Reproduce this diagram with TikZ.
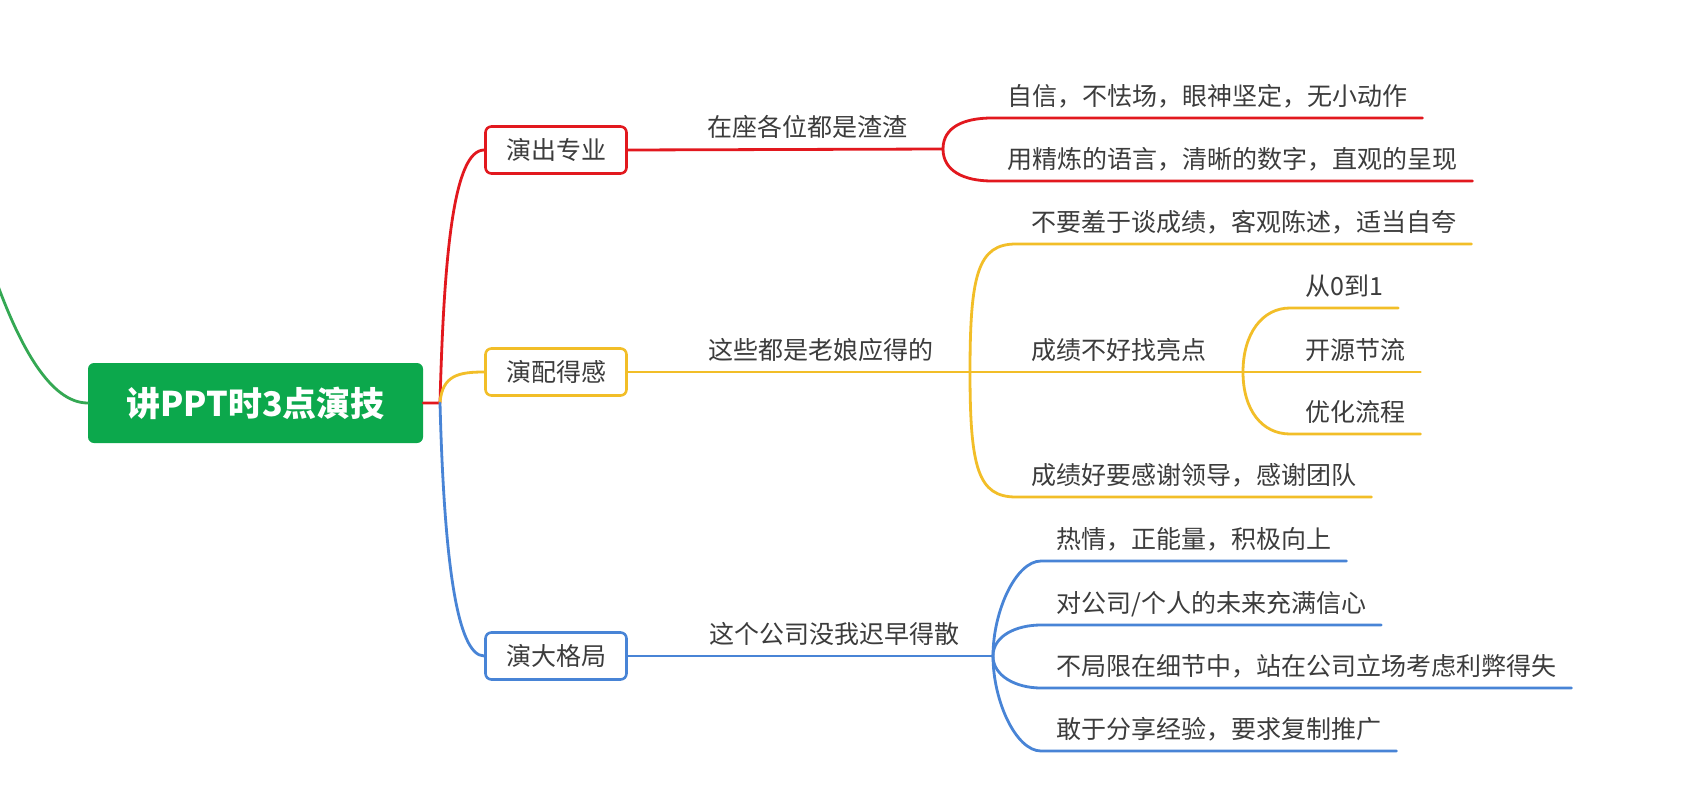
\documentclass[tikz,border=0pt]{standalone}
\usepackage{fontspec}
\setmainfont{Noto Sans CJK SC}
\usepackage{tikz}

\definecolor{mapred}{RGB}{226,24,30}
\definecolor{mapyellow}{RGB}{242,190,40}
\definecolor{mapblue}{RGB}{72,132,214}
\definecolor{mapgreen}{RGB}{12,168,76}
\definecolor{linegreen}{RGB}{52,168,83}
\definecolor{inkgray}{RGB}{60,60,60}

\tikzset{
  rootbox/.style={fill=mapgreen, rounded corners=6pt, minimum width=335pt, minimum height=80pt,
    text=white, font=\fontsize{34}{40}\selectfont\bfseries},
  topic/.style={draw, line width=2.6pt, rounded corners=6pt, fill=white, text=inkgray,
    font=\fontsize{25}{30}\selectfont, minimum width=141pt, minimum height=47pt, inner sep=0pt},
  leaf/.style={anchor=south west, inner xsep=15pt, inner ysep=0pt, text height=19pt,
    text depth=12pt, text=inkgray, font=\fontsize{25}{30}\selectfont},
  branch/.style={line width=2.8pt},
}

\begin{document}
\begin{tikzpicture}[x=1pt, y=-1pt, line cap=round, line join=round]
  \useasboundingbox[fill=white] (0,0) rectangle (1702,792);

  \coordinate (gtop) at (-2,286);
  \coordinate (hub) at (440,403);
  \coordinate (split1) at (943,149);
  \coordinate (split2) at (970,372);
  \coordinate (split2b) at (1243,372);
  \coordinate (split3) at (993,656);

  \node[rootbox] (root) at (255.5,403) {讲PPT时3点演技};
  \node[topic, draw=mapred]    (pro)  at (556,150) {演出专业};
  \node[topic, draw=mapyellow] (feel) at (556,372) {演配得感};
  \node[topic, draw=mapblue]   (big)  at (556,656) {演大格局};

  \node[leaf] (lab1) at (692,149) {在座各位都是渣渣};
  \node[leaf] (lab2) at (693,372) {这些都是老娘应得的};
  \node[leaf] (lab3) at (694,656) {这个公司没我迟早得散};

  \node[leaf] (r1) at (992,118) {自信，不怯场，眼神坚定，无小动作};
  \node[leaf] (r2) at (992,181) {用精炼的语言，清晰的数字，直观的呈现};

  \node[leaf] (y1) at (1016,244) {不要羞于谈成绩，客观陈述，适当自夸};
  \node[leaf] (y2) at (1016,372) {成绩不好找亮点};
  \node[leaf] (y3) at (1016,497) {成绩好要感谢领导，感谢团队};
  \node[leaf] (s1) at (1290,308) {从0到1};
  \node[leaf] (s2) at (1290,372) {开源节流};
  \node[leaf] (s3) at (1290,434) {优化流程};

  \node[leaf] (b1) at (1041,561) {热情，正能量，积极向上};
  \node[leaf] (b2) at (1041,625) {对公司/个人的未来充满信心};
  \node[leaf] (b3) at (1041,688) {不局限在细节中，站在公司立场考虑利弊得失};
  \node[leaf] (b4) at (1041,751) {敢于分享经验，要求复制推广};

  % root and main branches
  \draw[branch, linegreen] (gtop) .. controls (20,345) and (50,403) .. (root.west);
  \draw[branch, mapred] (root.east) -- (hub) .. controls +(4,-153) and +(-30,0) .. (pro.west);
  \draw[branch, mapyellow] (hub) .. controls +(2,-28) and +(-25,0) .. (feel.west);
  \draw[branch, mapblue] (hub) .. controls +(4,152) and +(-28,0) .. (big.west);

  % red
  \draw[branch, mapred] (pro.east) -- (split1);
  \draw[branch, mapred] (split1) .. controls +(0,-22) and +(-28,0) .. (r1.south west) -- (r1.south east);
  \draw[branch, mapred] (split1) .. controls +(0,22) and +(-28,0) .. (r2.south west) -- (r2.south east);

  % yellow
  \draw[branch, mapyellow] (feel.east) -- (split2) -- (split2b) -- (s2.south east);
  \draw[branch, mapyellow] (split2) .. controls +(0,-98) and +(-38,0) .. (y1.south west) -- (y1.south east);
  \draw[branch, mapyellow] (split2) .. controls +(0,96) and +(-38,0) .. (y3.south west) -- (y3.south east);
  \draw[branch, mapyellow] (split2b) .. controls +(0,-38) and +(-28,0) .. (s1.south west) -- (s1.south east);
  \draw[branch, mapyellow] (split2b) .. controls +(0,38) and +(-28,0) .. (s3.south west) -- (s3.south east);

  % blue
  \draw[branch, mapblue] (big.east) -- (split3);
  \draw[branch, mapblue] (split3) .. controls +(0,-45) and +(-25,0) .. (b1.south west) -- (b1.south east);
  \draw[branch, mapblue] (split3) .. controls +(0,-20) and +(-25,0) .. (b2.south west) -- (b2.south east);
  \draw[branch, mapblue] (split3) .. controls +(0,20) and +(-25,0) .. (b3.south west) -- (b3.south east);
  \draw[branch, mapblue] (split3) .. controls +(0,45) and +(-25,0) .. (b4.south west) -- (b4.south east);
\end{tikzpicture}
\end{document}
